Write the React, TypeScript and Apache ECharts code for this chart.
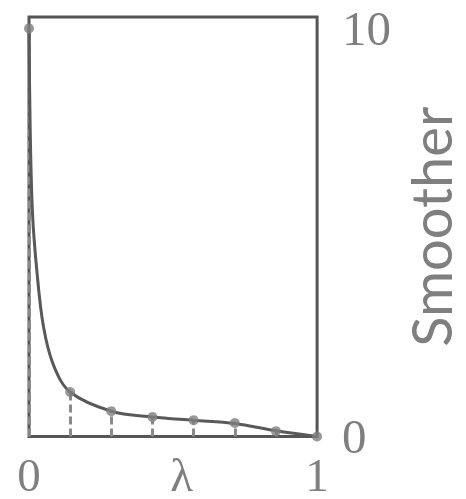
import React, { useEffect, useRef } from "react";
import * as echarts from "echarts";

// Marker points (λ, smoother value)
const markerX = [0, 1 / 7, 2 / 7, 3 / 7, 4 / 7, 5 / 7, 6 / 7, 1];
const markerY = [10, 1.09, 0.62, 0.48, 0.4, 0.33, 0.13, 0];

// Curve (drawn smooth through these points)
const curveX = [0, 0.004, 0.012, 0.027, 0.05, 0.085, 1 / 7, 2 / 7, 3 / 7, 4 / 7, 5 / 7, 6 / 7, 1];
const curveY = [10, 7.6, 5.5, 4.08, 2.7, 1.75, 1.09, 0.62, 0.48, 0.4, 0.32, 0.14, 0];

// Tick labels
const xTickValues = [0, 0.53, 1];
const xTickLabels = ["0", "λ", "1"];
const yTickValues = [0, 10];
const yTickLabels = ["0", "10"];
const yAxisName = "Smoother";

export default function App() {
  const ref = useRef<HTMLDivElement>(null);
  useEffect(() => {
    if (!ref.current) return;
    const chart = echarts.init(ref.current, null, { renderer: "svg" });
    const labelFont = {
      fontFamily: "Liberation Serif",
      fontSize: 49,
      color: "#7f7f7f",
    };
    chart.setOption({
      animation: false,
      grid: {
        left: 29,
        right: 144,
        top: 17,
        bottom: 62.5,
        show: true,
        borderColor: "#555555",
        borderWidth: 3,
        backgroundColor: "transparent",
      },
      xAxis: {
        type: "value",
        min: 0,
        max: 1,
        axisLine: { show: false },
        axisTick: { show: false },
        splitLine: { show: false },
        axisLabel: {
          ...labelFont,
          fontSize: 47,
          lineHeight: 34,
          margin: 21,
          customValues: xTickValues,
          formatter: (v: number) => {
            const i = xTickValues.findIndex((t) => Math.abs(t - v) < 1e-6);
            return i >= 0 ? xTickLabels[i] : "";
          },
        },
      },
      yAxis: {
        type: "value",
        position: "right",
        min: 0,
        max: 10.28,
        axisLine: { show: false },
        axisTick: { show: false },
        splitLine: { show: false },
        axisLabel: {
          ...labelFont,
          margin: 25,
          customValues: yTickValues,
          formatter: (v: number) => {
            const i = yTickValues.findIndex((t) => Math.abs(t - v) < 1e-6);
            return i >= 0 ? yTickLabels[i] : "";
          },
        },
        name: yAxisName,
        nameLocation: "middle",
        nameRotate: 90,
        nameGap: 80,
        nameTextStyle: {
          fontFamily: "Lato",
          fontSize: 56,
          color: "#7f7f7f",
        },
      },
      series: [
        {
          type: "line",
          data: curveX.map((x, i) => [x, curveY[i]]),
          smooth: 0.35,
          showSymbol: false,
          symbol: "none",
          lineStyle: { color: "#595959", width: 3 },
          z: 3,
          markLine: {
            silent: true,
            symbol: ["none", "none"],
            label: { show: false },
            lineStyle: { color: "#8a8a8a", width: 3, type: [8, 4] },
            data: markerX.map((x, i) => [
              { coord: [x, 0] },
              { coord: [x, markerY[i]] },
            ]),
            z: 2,
          },
        },
        {
          type: "scatter",
          data: markerX.map((x, i) => [x, markerY[i]]),
          symbol: "circle",
          symbolSize: 10,
          itemStyle: { color: "#7f7f7f" },
          z: 4,
        },
      ],
    });
    return () => chart.dispose();
  }, []);
  return (
    <div
      ref={ref}
      style={{ position: "fixed", left: 0, top: 0, width: 466, height: 499 }}
    />
  );
}
